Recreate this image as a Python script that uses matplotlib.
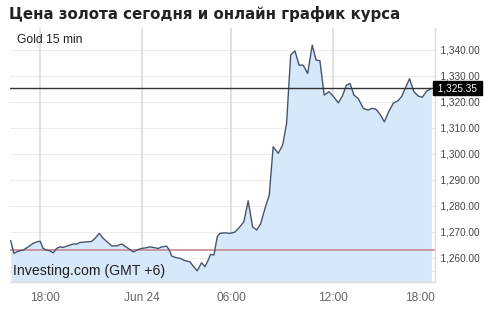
import matplotlib
matplotlib.use("Agg")
import matplotlib.pyplot as plt

# --- data (x = trading hours elapsed since 18:00 the previous day) ---
hours = [-1.72, -1.53, -1.37, -1.18, -0.98, -0.69, -0.39, -0.10, 0.02, 0.19,
         0.39, 0.59, 0.78, 0.98, 1.18, 1.37, 1.57, 1.76, 1.96, 2.16,
         2.35, 2.65, 3.04, 3.24, 3.49, 3.72, 4.02, 4.22, 4.51, 4.81,
         5.00, 5.29, 5.49, 5.78, 5.98, 6.28, 6.47, 6.66, 6.96, 7.16,
         7.45, 7.61, 7.75, 7.94, 8.24, 8.53, 8.82, 9.02, 9.25, 9.51,
         9.71, 9.90, 10.04, 10.24, 10.43, 10.59, 10.88, 11.18, 11.47, 11.76,
         12.00, 12.25, 12.51, 12.75, 12.98, 13.24, 13.49, 13.72, 14.02, 14.28,
         14.51, 14.75, 15.00, 15.25, 15.49, 15.75, 16.02, 16.24, 16.47, 16.72,
         17.00, 17.25, 17.55, 17.79, 18.03, 18.24, 18.47, 18.72, 19.02, 19.31,
         19.53, 19.76, 20.00, 20.26, 20.53, 20.78, 21.08, 21.29, 21.53, 21.74,
         22.00, 22.26, 22.50, 22.74, 23.03]
price = [1266.7, 1261.8, 1262.4, 1262.8, 1263.1, 1264.3, 1265.7, 1266.4, 1266.4, 1263.7,
         1263.1, 1262.8, 1262.0, 1263.7, 1264.3, 1264.1, 1264.6, 1265.0, 1265.4, 1265.4,
         1266.0, 1266.2, 1266.4, 1267.6, 1269.5, 1267.6, 1265.9, 1264.7, 1264.7, 1265.4,
         1264.6, 1263.3, 1262.4, 1263.3, 1263.7, 1264.0, 1264.3, 1264.1, 1263.7, 1264.3,
         1264.6, 1263.1, 1260.8, 1260.3, 1259.9, 1259.0, 1258.6, 1256.9, 1255.1, 1258.2,
         1256.7, 1259.2, 1261.4, 1261.2, 1268.2, 1269.5, 1269.7, 1269.5, 1270.0, 1272.0,
         1274.0, 1282.0, 1272.0, 1270.8, 1273.1, 1279.1, 1284.2, 1302.8, 1300.3, 1303.5,
         1311.8, 1338.1, 1339.7, 1334.2, 1334.2, 1331.0, 1341.9, 1336.2, 1335.9, 1322.7,
         1324.0, 1322.3, 1319.7, 1322.3, 1326.5, 1327.2, 1322.7, 1321.4, 1317.6, 1316.9,
         1317.6, 1317.3, 1315.4, 1312.4, 1316.5, 1319.5, 1320.6, 1322.3, 1325.9, 1329.0,
         1324.0, 1322.3, 1321.9, 1324.2, 1325.2]

current_price = 1325.35
reference_price = 1263.3
x_tick_pos = [0.0, 6.0, 11.24, 17.24]
x_tick_labels = ["18:00", "Jun 24", "06:00", "12:00"]
last_tick_pos = 23.24
last_tick_label = "18:00"
y_ticks = [1260, 1270, 1280, 1290, 1300, 1310, 1320, 1330, 1340]
title = "Цена золота сегодня и онлайн график курса"
subtitle = "Gold 15 min"
watermark = "Investing.com (GMT +6)"

W, H = 494, 310
fig = plt.figure(figsize=(W / 100, H / 100), dpi=100)
ax = fig.add_axes([10 / W, 1 - 282 / H, 425 / W, 254 / H])

ax.set_xlim(-1.76, 23.24)
ax.set_ylim(1250.8, 1348.5)

ax.fill_between(hours, price, 1250.8, color="#d8e8fb", lw=0, zorder=1)
ax.plot(hours, price, color="#46546b", lw=1.0, zorder=3)

ax.axhline(current_price, color="#333333", lw=1.0, zorder=4)
ax.axhline(reference_price, color="#c98a8f", lw=1.2, zorder=2)

# grid
for yv in y_ticks + [1255]:
    ax.axhline(yv, color="#ededed", lw=0.8, zorder=0.5)
for xv in x_tick_pos:
    ax.axvline(xv, color="#dedede", lw=1.3, zorder=0.6)

ax.set_xticks([])
ax.set_yticks([])
for s in ["left", "top"]:
    ax.spines[s].set_visible(False)
for s in ["right", "bottom"]:
    ax.spines[s].set_color("#dddddd")
    ax.spines[s].set_linewidth(1.0)

# y tick labels on right
for yv in y_ticks:
    ax.text(1.0, yv, "  " + f"{yv:,.2f}", transform=ax.get_yaxis_transform(),
            ha="left", va="center", fontsize=7.2, color="#444444",
            family="Liberation Sans")
ax.text(1.0, current_price, f" {current_price:,.2f} ", transform=ax.get_yaxis_transform(),
        ha="left", va="center", fontsize=7.2, color="white", family="Liberation Sans",
        bbox=dict(boxstyle="square,pad=0.2", fc="black", ec="black"), zorder=6)

# x tick labels
xt = ax.get_xaxis_transform()
for xv, lab in zip(x_tick_pos, x_tick_labels):
    dx = 0.3 if lab == "18:00" else 0.0
    ax.text(xv + dx, -0.04, lab, transform=xt, ha="center", va="top",
            fontsize=8.6, color="#666666", family="Liberation Sans")
ax.text(last_tick_pos, -0.04, last_tick_label, transform=xt, ha="right", va="top",
        fontsize=8.6, color="#666666", family="Liberation Sans")

ax.text(7 / 425, 0.975, subtitle, transform=ax.transAxes, ha="left", va="top",
        fontsize=8.7, color="#222222", family="Liberation Sans")
ax.text(3 / 425, 0.015, watermark, transform=ax.transAxes, ha="left", va="bottom",
        fontsize=10.2, color="#222222", family="Liberation Sans")

fig.text(9 / W, 1 - 14 / H, title, ha="left", va="center", fontsize=10.8,
         fontweight="bold", color="#222222", family="DejaVu Sans")

fig.savefig("out.png", dpi=100)
